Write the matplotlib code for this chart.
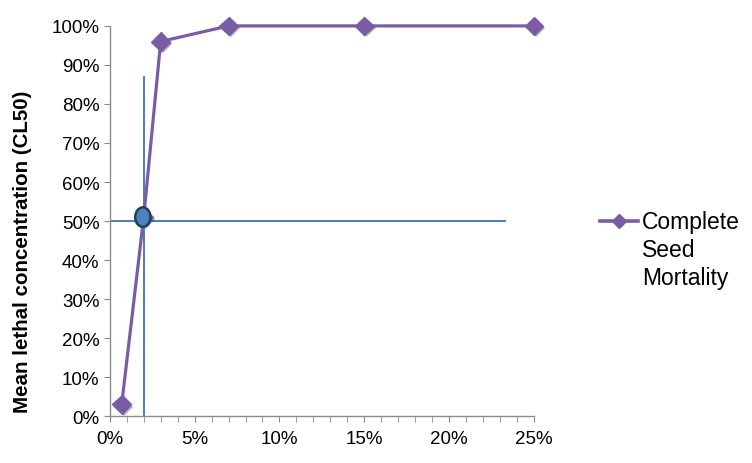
import matplotlib
matplotlib.use("Agg")
import matplotlib.pyplot as plt
from matplotlib.patches import Ellipse
from matplotlib.lines import Line2D
from matplotlib.ticker import MultipleLocator, FuncFormatter
import matplotlib.patheffects as pe

plt.rcParams['font.family'] = ['Liberation Sans', 'DejaVu Sans']

# Data (percent)
concentration = [0.7, 2.0, 3.0, 7.0, 15.0, 25.0]
mortality = [3, 51, 96, 100, 100, 100]
series_label = "Complete\nSeed\nMortality"

# Reference lines (CL50)
cl50_x = 2.0
cl50_y = 50
vline_top = 87
hline_right = 23.3
ellipse_center = (1.95, 51)

x_ticks = [0, 5, 10, 15, 20, 25]
y_ticks = list(range(0, 101, 10))

purple = '#7a5ca4'
blue = '#4a7ebb'
axis_gray = '#8c8c8c'

fig = plt.figure(figsize=(7.52, 4.64), dpi=100)
ax = fig.add_axes([0.146, 0.101, 0.564, 0.841])

ax.plot(concentration, mortality, color=purple, lw=2.3, zorder=3,
        solid_joinstyle='round', clip_on=False)
ax.plot(concentration, mortality, ls='none', marker='D', ms=9.5,
        color=purple, zorder=4, clip_on=False,
        path_effects=[pe.SimplePatchShadow(offset=(1.5, -1.5), alpha=0.35), pe.Normal()])

ax.plot([cl50_x, cl50_x], [0, vline_top], color=blue, lw=1.4, zorder=2)
ax.plot([0, hline_right], [cl50_y, cl50_y], color=blue, lw=1.4, zorder=2)

ell = Ellipse(ellipse_center, width=0.9, height=5.0, facecolor='#4f81bd',
              edgecolor='#1f3f66', lw=1.8, zorder=6)
ax.add_patch(ell)

ax.set_xlim(0, 25)
ax.set_ylim(0, 100)
ax.set_xticks(x_ticks)
ax.xaxis.set_minor_locator(MultipleLocator(1))
ax.set_yticks(y_ticks)
ax.xaxis.set_major_formatter(FuncFormatter(lambda v, p: f"{v:.0f}%"))
ax.yaxis.set_major_formatter(FuncFormatter(lambda v, p: f"{v:.0f}%"))

for s in ['top', 'right']:
    ax.spines[s].set_visible(False)
for s in ['left', 'bottom']:
    ax.spines[s].set_color(axis_gray)
    ax.spines[s].set_linewidth(1.0)
ax.tick_params(axis='both', which='both', direction='out', color=axis_gray,
               length=4, labelsize=13.5, labelcolor='black')
ax.tick_params(axis='x', pad=6)

fig.text(23 / 752, 1 - 251.5 / 464, "Mean lethal concentration (CL50)",
         rotation=90, ha='center', va='center', fontsize=14.8,
         fontweight='bold')

# Legend (handle aligned with first text line, as in the reference)
legend_y = 1 - 222 / 464
fig.add_artist(Line2D([600 / 752, 638 / 752], [legend_y, legend_y],
                      color=purple, lw=2.6, transform=fig.transFigure))
fig.add_artist(Line2D([619 / 752], [legend_y], marker='D', ms=7,
                      color=purple, transform=fig.transFigure))
fig.text(642 / 752, 1 - 211 / 464, series_label, ha='left', va='top',
         fontsize=16.5, linespacing=1.28)

fig.savefig("out.png", dpi=100)
